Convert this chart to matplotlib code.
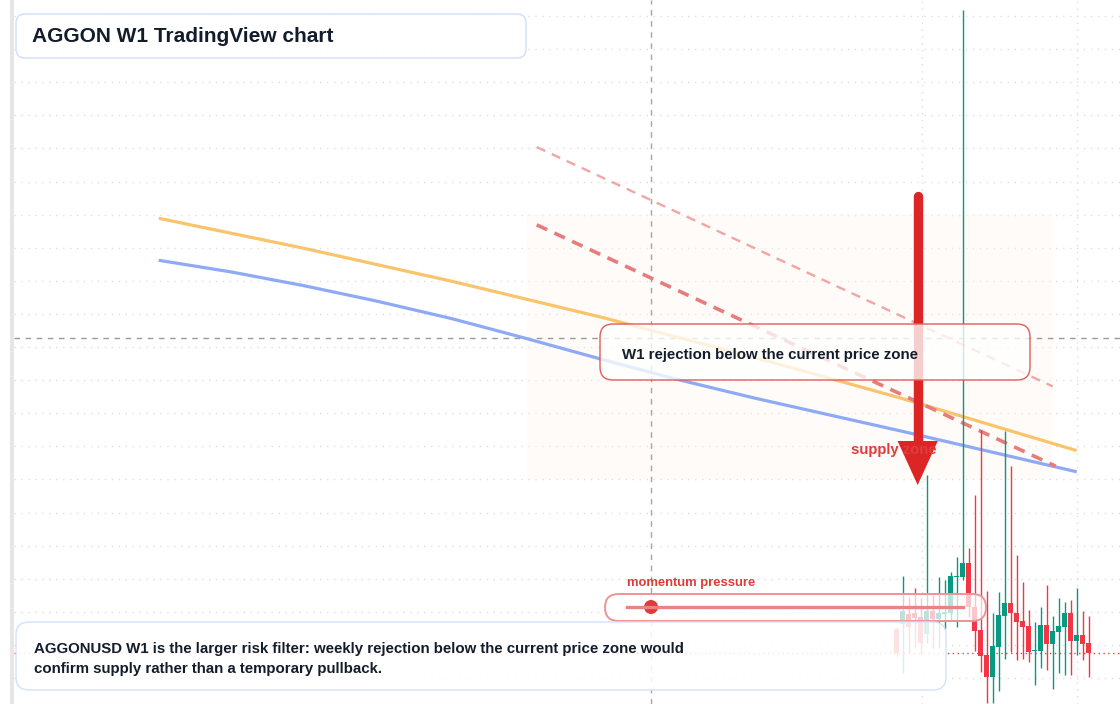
import matplotlib
matplotlib.use("Agg")
import matplotlib.pyplot as plt
from matplotlib.patches import FancyBboxPatch, Rectangle, Polygon, Circle
from matplotlib.lines import Line2D

plt.rcParams['font.family'] = ['Liberation Sans', 'DejaVu Sans']

# ---------------- data ----------------
candle_bars = list(range(123, 156))
opens  = [0.1148, 0.1163, 0.1193, 0.1196, 0.1184, 0.1133, 0.1202, 0.1178, 0.1193, 0.1196,
          0.1305, 0.1305, 0.1347, 0.1215, 0.1145, 0.1069, 0.1003, 0.1094, 0.1187, 0.1227,
          0.1196, 0.1172, 0.1157, 0.1082, 0.1082, 0.1160, 0.1103, 0.1139, 0.1154, 0.1196,
          0.1112, 0.1130, 0.1106]
highs  = [0.1154, 0.1308, 0.1245, 0.1272, 0.1242, 0.1613, 0.1251, 0.1305, 0.1296, 0.1320,
          0.1366, 0.3018, 0.1393, 0.1553, 0.1749, 0.1263, 0.1196, 0.1260, 0.1746, 0.1640,
          0.1372, 0.1290, 0.1205, 0.1169, 0.1215, 0.1281, 0.1187, 0.1242, 0.1230, 0.1236,
          0.1272, 0.1202, 0.1187]
lows   = [0.1066, 0.1015, 0.1076, 0.1091, 0.1073, 0.1106, 0.1091, 0.1091, 0.1148, 0.1175,
          0.1154, 0.1296, 0.1184, 0.1082, 0.1018, 0.0924, 0.0924, 0.0961, 0.1057, 0.1079,
          0.1054, 0.1057, 0.1048, 0.0979, 0.1030, 0.1024, 0.0967, 0.1015, 0.1009, 0.1009,
          0.1069, 0.1054, 0.1003]
closes = [0.1076, 0.1202, 0.1154, 0.1181, 0.1106, 0.1202, 0.1178, 0.1196, 0.1199, 0.1308,
          0.1308, 0.1347, 0.1215, 0.1142, 0.1066, 0.1003, 0.1097, 0.1190, 0.1227, 0.1196,
          0.1169, 0.1154, 0.1079, 0.1085, 0.1160, 0.1103, 0.1142, 0.1157, 0.1196, 0.1112,
          0.1130, 0.1103, 0.1076]

orange_bars = [0, 24, 49, 74, 99, 124, 153]
orange_vals = [0.2389, 0.2299, 0.2198, 0.2089, 0.1970, 0.1844, 0.1687]

blue_bars = [0, 12, 24, 36, 49, 61, 74, 86, 99, 111, 124, 139, 153]
blue_vals = [0.2262, 0.2227, 0.2186, 0.2140, 0.2085, 0.2027, 0.1962, 0.1904, 0.1847,
             0.1798, 0.1745, 0.1682, 0.1623]

upper_dash_bars = [63, 149]
upper_dash_vals = [0.2604, 0.1881]
lower_dash_bars = [63, 149.5]
lower_dash_vals = [0.2369, 0.1640]

zone_bars = [61.4, 149.1]
zone_prices = [0.1600, 0.2401]

arrow_bar = 126.5
arrow_from = 0.2456
arrow_to = 0.1583

crosshair_bar = 82
crosshair_price = 0.2027
vgrid_bars = [127.2, 153.0]
grid_prices = [0.10 + 0.01 * k for k in range(21)]
momentum_value = 0.07

title_text = "AGGON W1 TradingView chart"
callout_text = "W1 rejection below the current price zone"
zone_label = "supply zone"
momentum_label = "momentum pressure"
note_lines = ["AGGONUSD W1 is the larger risk filter: weekly rejection below the current price zone would",
              "confirm supply rather than a temporary pullback."]

GREEN = '#089981'
RED = '#f23645'
DARK = '#131c2b'

# ---------------- figure ----------------
W, H = 1120, 704
fig = plt.figure(figsize=(W / 100, H / 100), dpi=100)
fig.patch.set_facecolor('white')
ax = fig.add_axes([14 / W, 0, 1 - 14 / W, 1])
ax.set_xlim(-24.12, 160.22)
ax.set_ylim(0.092145, 0.304834)
for s in ax.spines.values():
    s.set_visible(False)
ax.set_xticks([])
ax.set_yticks([])

# grid
for p in grid_prices:
    ax.axhline(p, color='#dedede', lw=1.0, ls=(0, (1, 4)), zorder=0)
for b in vgrid_bars:
    ax.axvline(b, color='#dedede', lw=1.0, ls=(0, (1, 4)), zorder=0)

# zone
ax.add_patch(Rectangle((zone_bars[0], zone_prices[0]), zone_bars[1] - zone_bars[0],
                       zone_prices[1] - zone_prices[0], facecolor='#fdf5ef', alpha=0.4,
                       edgecolor='none', zorder=0.5))

# crosshair
ax.axhline(crosshair_price, color='#9a9a9a', lw=1.0, ls=(0, (4, 4)), zorder=1)
ax.axvline(crosshair_bar, color='#a5a5a5', lw=1.0, ls=(0, (4, 4)), zorder=1)

# indicator lines
ax.plot(orange_bars, orange_vals, color='#f9c46b', lw=2.3, zorder=2, solid_capstyle='butt')
ax.plot(blue_bars, blue_vals, color='#8eaaf5', lw=2.3, zorder=2, solid_capstyle='butt')
ax.plot(upper_dash_bars, upper_dash_vals, color='#f3a5a5', lw=1.7, ls=(0, (4, 3)), zorder=2)
ax.plot(lower_dash_bars, lower_dash_vals, color='#e87c7c', lw=2.6, ls=(0, (3.2, 2.2)), zorder=2)

# last price line
ax.axhline(closes[-1], color=RED, lw=1.0, ls=(0, (1, 2.5)), zorder=1.5)

# candles
for b, o, h, l, c in zip(candle_bars, opens, highs, lows, closes):
    col = GREEN if c >= o else RED
    ax.vlines(b, l, h, color=col, lw=1.0, zorder=3)
    bot = min(o, c)
    ht = max(abs(c - o), 0.0004)
    ax.bar(b, ht, bottom=bot, width=0.74, color=col, edgecolor='none', zorder=3.2)

# arrow
head_len = 0.0133
head_w = 3.35
ax.plot([arrow_bar, arrow_bar], [arrow_from, arrow_to + head_len * 0.9], color='#dc2626',
        lw=6.8, solid_capstyle='round', zorder=5)
ax.add_patch(Polygon([[arrow_bar - head_w, arrow_to + head_len], [arrow_bar + head_w, arrow_to + head_len],
                      [arrow_bar, arrow_to]], closed=True, facecolor='#dc2626', edgecolor='none', zorder=5))

# supply zone label (drawn over the arrow, same red family)
ax.text(115.4, 0.1690, zone_label, color='#e23b3b', fontsize=10.7, fontweight='bold',
        va='center', ha='left', zorder=6)

# ---------------- overlay boxes (pixel based) ----------------
T = fig.dpi_scale_trans


def box(x0, y0, x1, y1, r, ec, alpha=1.0, lw=1.0):
    p = FancyBboxPatch(((x0) / 100, (H - y1) / 100), (x1 - x0) / 100, (y1 - y0) / 100,
                       boxstyle=f"round,pad=0,rounding_size={r / 100}", transform=T,
                       facecolor='white', edgecolor=ec, lw=lw)
    p.set_facecolor((1, 1, 1, alpha))
    fig.add_artist(p)


def ftext(x, y, s, **kw):
    fig.text(x / W, 1 - y / H, s, **kw)


# left strip
fig.add_artist(Rectangle((10 / W, 0), 4 / W, 1, transform=fig.transFigure,
                         facecolor='#e6e6e6', edgecolor='none'))

# title
box(16, 14, 526, 58, 9, '#cfdff7', alpha=0.96)
ftext(32, 37, title_text, fontsize=15, fontweight='bold', color=DARK, va='center', ha='left')

# callout
box(600, 324, 1030, 380, 13, '#e35b5b', alpha=0.78)
ftext(622, 354.5, callout_text, fontsize=10.85, fontweight='bold', color=DARK, va='center', ha='left')

# momentum pill
ftext(627, 583, momentum_label, fontsize=9.35, fontweight='bold', color='#e03a3a', va='center', ha='left')
box(605, 594, 986, 621, 13.5, '#ee9494', alpha=0.72, lw=1.4)
lx0, lx1, ly = 627, 963, 607
fig.add_artist(Line2D([lx0 / W, lx1 / W], [1 - ly / H, 1 - ly / H], transform=fig.transFigure,
                      color='#ea8383', lw=2.4))
dot_x = lx0 + momentum_value * (lx1 - lx0) + 0.5
fig.add_artist(Circle((dot_x / 100, (H - ly) / 100), 0.07, transform=T,
                      facecolor='#e03a3a', edgecolor='none'))

# bottom note
box(16, 622, 946, 690, 13, '#d3e2f9', alpha=0.86)
ftext(34, 648.5, note_lines[0], fontsize=10.85, fontweight='bold', color=DARK, va='center', ha='left')
ftext(34, 668.5, note_lines[1], fontsize=10.85, fontweight='bold', color=DARK, va='center', ha='left')

fig.savefig('out.png', dpi=100)
